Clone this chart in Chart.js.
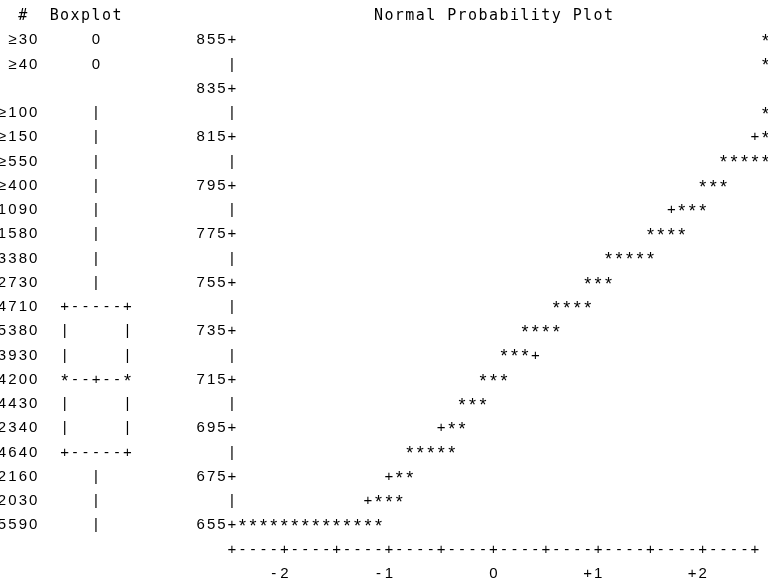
<!DOCTYPE html>
<html>
<head>
<meta charset="utf-8">
<script src="https://cdn.jsdelivr.net/npm/chart.js@4/dist/chart.umd.min.js"></script>
<style>
  html, body { margin: 0; padding: 0; background: #fff; overflow: hidden; }
  canvas { display: block; }
</style>
</head>
<body>
<canvas id="plot" width="768" height="587"></canvas>
<script>
// Value rows of the line-printer plot (one text line per 10 units)
const plotRows = [855, 845, 835, 825, 815, 805, 795, 785, 775, 765, 755,
                  745, 735, 725, 715, 705, 695, 685, 675, 665, 655];

// Labelled ticks on the vertical axis
const yTickValues = [855, 835, 815, 795, 775, 755, 735, 715, 695, 675, 655];

// Normal quantile ticks on the horizontal axis
const xTickValues = [-2, -1, 0, 1, 2];
const xTickLabels = ['-2', '-1', '0', '+1', '+2'];

// Frequency column (#) and boxplot column, one entry per value row
const countLabels = ['\u226530', '\u226540', '', '\u2265100', '\u2265150', '\u2265550', '\u2265400',
                     '1090', '1580', '3380', '2730', '4710', '5380', '3930', '4200',
                     '4430', '2340', '4640', '2160', '2030', '5590'];
const boxplotLines = ['   0', '   0', '',
                      '   |', '   |', '   |', '   |', '   |', '   |', '   |', '   |',
                      '+-----+', '|     |', '|     |', '*--+--*', '|     |', '|     |', '+-----+',
                      '   |', '   |', '   |'];

// Observed points: value row and the normal scores plotted on it
const obsRowValues = [855, 845, 825, 815, 805, 795, 785, 775, 765, 755,
                      745, 735, 725, 715, 705, 695, 685, 675, 665, 655];
const obsRowScores = [
  [2.6],
  [2.6],
  [2.6],
  [2.6],
  [2.2, 2.3, 2.4, 2.5, 2.6],
  [2.0, 2.1, 2.2],
  [1.8, 1.9, 2.0],
  [1.5, 1.6, 1.7, 1.8],
  [1.1, 1.2, 1.3, 1.4, 1.5],
  [0.9, 1.0, 1.1],
  [0.6, 0.7, 0.8, 0.9],
  [0.3, 0.4, 0.5, 0.6],
  [0.1, 0.2, 0.3],
  [-0.1, 0.0, 0.1],
  [-0.3, -0.2, -0.1],
  [-0.4, -0.3],
  [-0.8, -0.7, -0.6, -0.5, -0.4],
  [-0.9, -0.8],
  [-1.1, -1.0, -0.9],
  [-2.4, -2.3, -2.2, -2.1, -2.0, -1.9, -1.8, -1.7, -1.6, -1.5, -1.4, -1.3, -1.2, -1.1]
];

// Reference-line markers ('+') that are not covered by observations
const refScores = [2.5, 1.7, 0.4, -0.5, -1.0, -1.2];
const refValues = [815, 785, 725, 695, 675, 665];

// ---- build datasets ----
const obsPoints = [];
obsRowValues.forEach((v, i) => obsRowScores[i].forEach(s => obsPoints.push({ x: s, y: v })));
const refPoints = refScores.map((s, i) => ({ x: s, y: refValues[i] }));

// Character grid: one column is 0.1 of a normal score, the vertical axis sits at -2.5
const AXIS_SCORE = -2.5;
const COL_STEP = 0.1;
const ROW_STEP = 10;

const SANS = '15px "Liberation Sans", Arial, sans-serif';
const STAR = '18px "Liberation Sans", Arial, sans-serif';
const MONO = '15px "DejaVu Sans Mono", monospace';
const INK = '#000';

const lineprinter = {
  id: 'lineprinter',
  afterDatasetsDraw(chart) {
    const { ctx, scales: { x, y } } = chart;
    const colX = c => x.getPixelForValue(AXIS_SCORE + COL_STEP * c);
    const rowY = v => y.getPixelForValue(v);

    ctx.save();
    ctx.fillStyle = INK;
    ctx.textAlign = 'center';
    ctx.textBaseline = 'alphabetic';

    // draw a string one character per grid cell
    const put = (str, col, value, font) => {
      const base = rowY(value) + (font === MONO ? 5.5 : 5.4);
      for (let i = 0; i < str.length; i++) {
        const ch = str[i];
        if (ch === ' ') continue;
        if (ch === '*') {
          ctx.font = STAR;
          ctx.fillText(ch, colX(col + i), rowY(value) + 8.2);
        } else {
          ctx.font = font;
          ctx.fillText(ch, colX(col + i), base);
        }
      }
    };

    const headerRow = plotRows[0] + ROW_STEP;
    put('#', -20, headerRow, MONO);
    put('Boxplot', -17, headerRow, MONO);
    put('Normal Probability Plot', 14, headerRow, MONO);

    // frequency column, right aligned
    plotRows.forEach((v, i) => {
      const s = countLabels[i];
      if (s) put(s, -19 - (s.length - 1), v, SANS);
    });

    // boxplot column
    plotRows.forEach((v, i) => {
      if (boxplotLines[i]) put(boxplotLines[i], -16, v, SANS);
    });

    // vertical axis
    plotRows.forEach(v => {
      if (yTickValues.includes(v)) put(String(v) + '+', -3, v, SANS);
      else put('|', 0, v, SANS);
    });

    // horizontal axis line with a '+' every half unit
    const axisRow = plotRows[plotRows.length - 1] - ROW_STEP;
    let axis = '';
    for (let c = 0; c <= 50; c++) axis += (c % 5 === 0) ? '+' : '-';
    put(axis, 0, axisRow, SANS);

    // tick labels under the axis, last character on the tick column
    const labelRow = axisRow - ROW_STEP;
    xTickValues.forEach((t, i) => {
      const lab = xTickLabels[i];
      const col = Math.round((t - AXIS_SCORE) / COL_STEP);
      put(lab, col - (lab.length - 1), labelRow, SANS);
    });

    // plotted symbols at the positions the scales give each point
    chart.data.datasets.forEach((ds, di) => {
      const star = ds.glyph === '*';
      ctx.font = star ? STAR : SANS;
      chart.getDatasetMeta(di).data.forEach(pt => {
        ctx.fillText(ds.glyph, pt.x, pt.y + (star ? 8.2 : 5.4));
      });
    });

    ctx.restore();
  }
};

new Chart(document.getElementById('plot'), {
  type: 'scatter',
  data: {
    datasets: [
      { label: 'Observations', glyph: '*', data: obsPoints, pointRadius: 0, pointHoverRadius: 0, clip: false },
      { label: 'Normal reference', glyph: '+', data: refPoints, pointRadius: 0, pointHoverRadius: 0, clip: false }
    ]
  },
  options: {
    responsive: false,
    animation: false,
    events: [],
    layout: { padding: { left: 232, right: 2.54, top: 39, bottom: 63 } },
    plugins: { legend: { display: false }, tooltip: { enabled: false } },
    scales: {
      x: { type: 'linear', min: -2.5, max: 2.6, display: false },
      y: { type: 'linear', min: 655, max: 855, display: false }
    }
  },
  plugins: [lineprinter]
});
</script>
</body>
</html>
